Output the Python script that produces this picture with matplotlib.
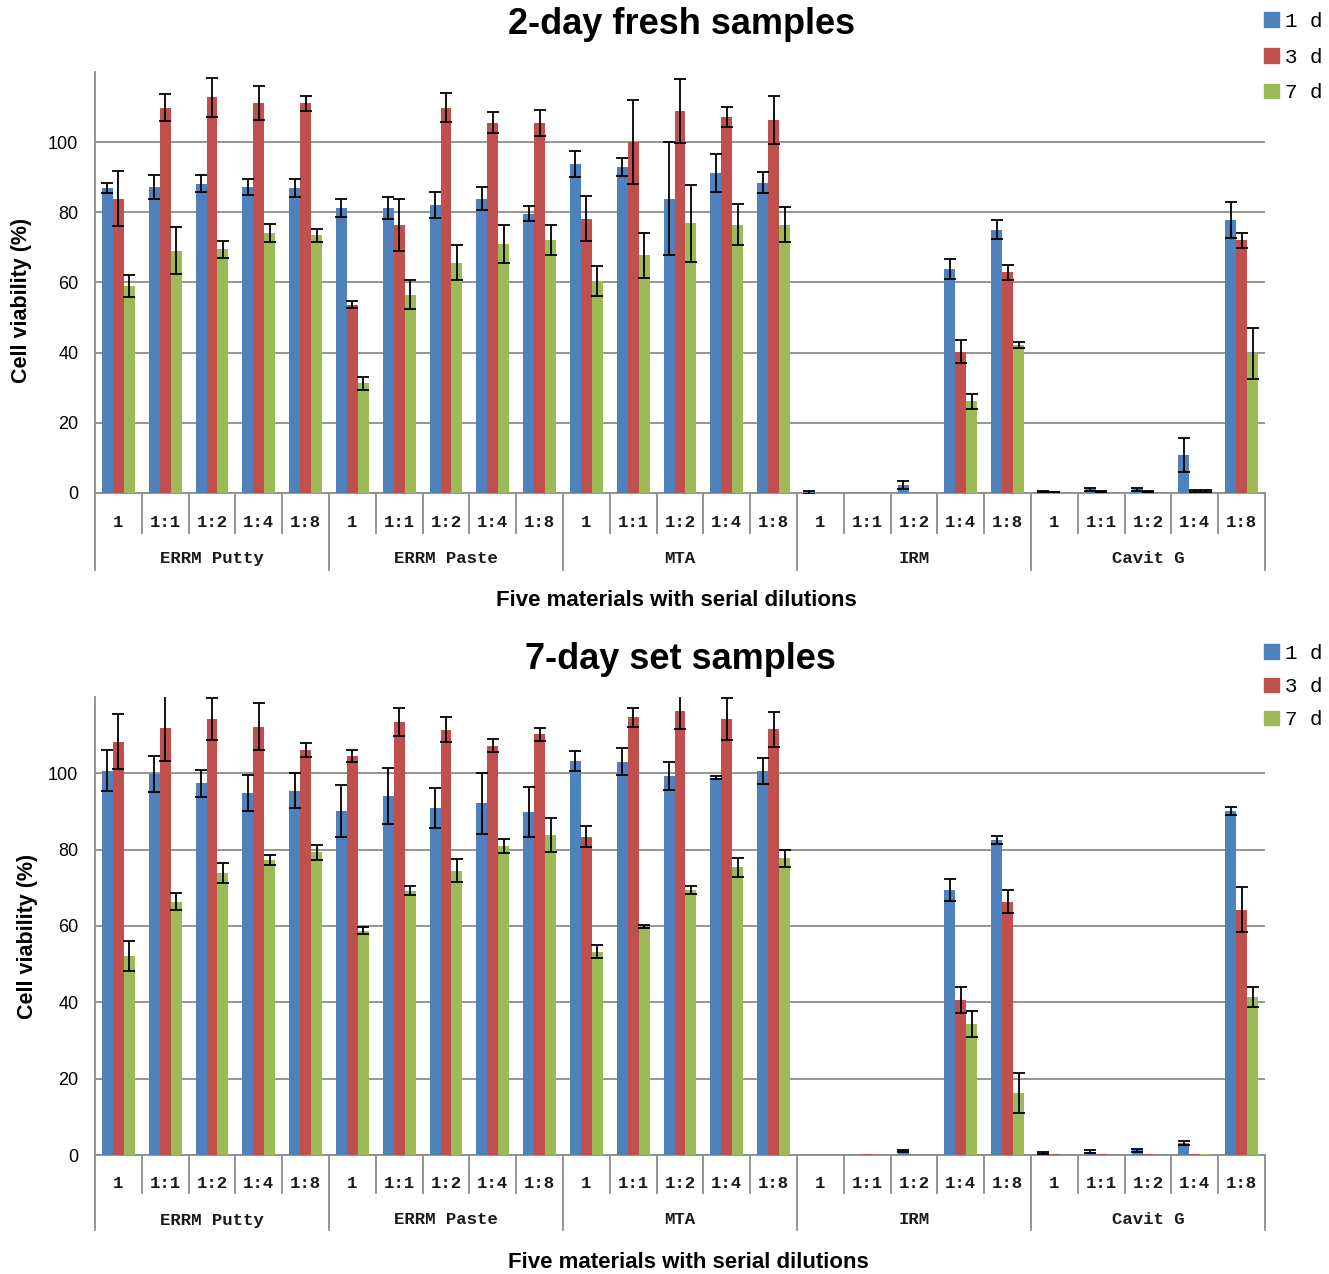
import matplotlib
matplotlib.use("Agg")
import matplotlib.pyplot as plt
import matplotlib.transforms as mtransforms
from matplotlib.patches import Patch
from matplotlib.font_manager import FontProperties
import numpy as np

# Chart data
materials = ["ERRM Putty", "ERRM Paste", "MTA", "IRM", "Cavit G"]
dilutions = ["1", "1:1", "1:2", "1:4", "1:8"]
series_labels = ["1 d", "3 d", "7 d"]

fresh_1d = [87.0, 87.2, 88.2, 87.2, 86.9, 81.2, 81.2, 82.0, 83.9, 79.6,
            93.8, 92.9, 83.9, 91.2, 88.5, 0.2, 0.0, 2.2, 63.8, 75.1,
            0.4, 1.0, 1.0, 10.8, 77.9]
fresh_1d_err = [1.4, 3.3, 2.4, 2.3, 2.6, 2.6, 3.2, 3.7, 3.3, 2.1,
                3.8, 2.6, 16.2, 5.3, 3.1, 0.4, 0.0, 1.2, 2.8, 2.7,
                0.2, 0.3, 0.3, 4.9, 5.1]
fresh_3d = [83.9, 109.8, 112.8, 111.1, 111.1, 53.6, 76.5, 109.8, 105.5, 105.5,
            78.2, 100.0, 109.0, 107.1, 106.4, 0.0, 0.0, 0.0, 40.3, 62.9,
            0.3, 0.4, 0.4, 0.6, 72.0]
fresh_3d_err = [7.9, 3.9, 5.5, 4.8, 2.2, 1.0, 7.4, 4.1, 3.0, 3.8,
                6.4, 11.9, 9.1, 2.8, 6.9, 0.0, 0.0, 0.0, 3.3, 2.2,
                0.1, 0.1, 0.1, 0.3, 2.2]
fresh_7d = [59.1, 69.0, 69.5, 74.1, 73.4, 31.3, 56.5, 65.6, 70.9, 72.0,
            60.4, 67.7, 76.9, 76.5, 76.5, 0.0, 0.0, 0.0, 26.1, 42.1,
            0.0, 0.0, 0.0, 0.5, 39.8]
fresh_7d_err = [3.1, 6.7, 2.4, 2.5, 1.9, 1.8, 4.1, 5.0, 5.4, 4.3,
                4.2, 6.3, 11.0, 5.8, 5.0, 0.0, 0.0, 0.0, 2.2, 0.9,
                0.0, 0.0, 0.0, 0.3, 7.2]

set_1d = [100.7, 99.8, 97.4, 94.9, 95.4, 90.2, 94.1, 91.0, 92.1, 89.8,
          103.3, 103.1, 99.3, 98.9, 100.7, 0.0, 0.0, 1.1, 69.4, 82.5,
          0.5, 0.9, 1.2, 3.2, 90.1]
set_1d_err = [5.3, 4.7, 3.6, 4.7, 4.6, 6.8, 7.3, 5.2, 8.1, 6.6,
              2.6, 3.5, 3.7, 0.5, 3.4, 0.0, 0.0, 0.3, 2.8, 1.0,
              0.2, 0.3, 0.3, 0.5, 1.1]
set_3d = [108.3, 111.8, 114.2, 112.2, 106.1, 104.5, 113.5, 111.4, 107.2, 110.2,
          83.4, 114.7, 116.3, 114.2, 111.5, 0.0, 0.3, 0.0, 40.6, 66.4,
          0.3, 0.3, 0.3, 0.3, 64.2]
set_3d_err = [7.2, 8.5, 5.5, 6.2, 1.8, 1.5, 3.7, 3.3, 1.7, 1.7,
              2.8, 2.5, 4.7, 5.5, 4.5, 0.0, 0.0, 0.0, 3.4, 3.1,
              0.0, 0.0, 0.0, 0.0, 5.9]
set_7d = [52.2, 66.4, 73.8, 77.3, 79.3, 58.8, 69.3, 74.5, 81.0, 83.8,
          53.3, 59.8, 69.4, 75.4, 77.7, 0.0, 0.0, 0.0, 34.2, 16.2,
          0.0, 0.0, 0.0, 0.3, 41.4]
set_7d_err = [4.0, 2.3, 2.6, 1.4, 2.0, 1.0, 1.3, 3.1, 1.8, 4.5,
              1.7, 0.4, 1.0, 2.5, 2.3, 0.0, 0.0, 0.0, 3.4, 5.2,
              0.0, 0.0, 0.0, 0.0, 2.7]

colors = ["#4F81BD", "#C0504D", "#9BBB59"]
grid_color = "#8c8c8c"
W, H = 1329, 1274
cat_font = dict(family="Liberation Mono", fontsize=12.5, weight="bold",
                color="#1a1a1a")


def rect(left, top, right, bottom):
    return [left / W, 1 - bottom / H, (right - left) / W, (bottom - top) / H]


def draw_panel(ax, values, errors, ax_h, lab_px, short_px, grp_px, long_px):
    n = len(dilutions) * len(materials)
    x = np.arange(n)
    width = 0.235
    offsets = [-width, 0, width]

    for vals, errs, off, c in zip(values, errors, offsets, colors):
        vals = np.array(vals)
        errs = np.array(errs)
        ax.bar(x + off, vals, width, color=c, zorder=3)
        mask = errs > 0
        ax.errorbar(x[mask] + off, vals[mask], yerr=errs[mask], fmt="none",
                    ecolor="black", elinewidth=1.3, capsize=4, capthick=1.3,
                    zorder=4)

    ax.set_xlim(-0.5, n - 0.5)
    ax.set_ylim(0, 120)
    ax.set_yticks([0, 20, 40, 60, 80, 100])
    ax.set_xticks([])
    ax.yaxis.grid(True, color=grid_color, lw=1.3)
    ax.set_axisbelow(True)
    for s in ["top", "right"]:
        ax.spines[s].set_visible(False)
    for s in ["left", "bottom"]:
        ax.spines[s].set_color(grid_color)
        ax.spines[s].set_linewidth(1.3)
    ax.tick_params(axis="y", length=0, pad=12, labelsize=13)
    for lab in ax.get_yticklabels():
        lab.set_family("Liberation Sans")

    # two-level category axis
    trans = mtransforms.blended_transform_factory(ax.transData, ax.transAxes)
    for i in range(n + 1):
        xb = i - 0.5
        depth = long_px if i % 5 == 0 else short_px
        ax.plot([xb, xb], [0, -depth / ax_h], transform=trans, clip_on=False,
                color=grid_color, lw=1.3)
    for i in range(n):
        ax.text(i, -lab_px / ax_h, dilutions[i % 5], transform=trans,
                ha="center", va="center", **cat_font)
    for g, m in enumerate(materials):
        ax.text(g * 5 + 2, -grp_px / ax_h, m, transform=trans,
                ha="center", va="center", **cat_font)


fig = plt.figure(figsize=(13.29, 12.74), dpi=100)

ax_top = fig.add_axes(rect(95, 72, 1265, 493))
ax_bot = fig.add_axes(rect(95, 697, 1265, 1155))

draw_panel(ax_top, [fresh_1d, fresh_3d, fresh_7d],
           [fresh_1d_err, fresh_3d_err, fresh_7d_err],
           421, 30, 40, 66, 77)
draw_panel(ax_bot, [set_1d, set_3d, set_7d],
           [set_1d_err, set_3d_err, set_7d_err],
           458, 28, 38, 65, 75)

title_kw = dict(ha="center", va="center", fontsize=26, weight="bold",
                family="Liberation Sans")
fig.text(682 / W, 1 - 25 / H, "2-day fresh samples", **title_kw)
fig.text(680 / W, 1 - 660 / H, "7-day set samples", **title_kw)

ylab_kw = dict(ha="center", va="center", rotation=90, fontsize=15.5,
               weight="bold", family="Liberation Sans")
fig.text(22 / W, 1 - 300 / H, "Cell viability (%)", **ylab_kw)
fig.text(28 / W, 1 - 936 / H, "Cell viability (%)", **ylab_kw)

xlab_kw = dict(ha="center", va="center", fontsize=16, weight="bold",
               family="Liberation Sans")
fig.text(676 / W, 1 - 601 / H, "Five materials with serial dilutions", **xlab_kw)
fig.text(688 / W, 1 - 1262 / H, "Five materials with serial dilutions", **xlab_kw)

handles = [Patch(color=c) for c in colors]
leg_font = FontProperties(family="Liberation Mono", size=15)
for top_px, spacing in [(12, 0.8), (644, 0.68)]:
    fig.legend(handles, series_labels, loc="upper left",
               bbox_to_anchor=(1264 / W, 1 - top_px / H), frameon=False,
               prop=leg_font, handlelength=0.7, handleheight=0.7,
               handletextpad=0.3, labelspacing=spacing, borderpad=0,
               borderaxespad=0)

fig.savefig("out.png", dpi=100)
